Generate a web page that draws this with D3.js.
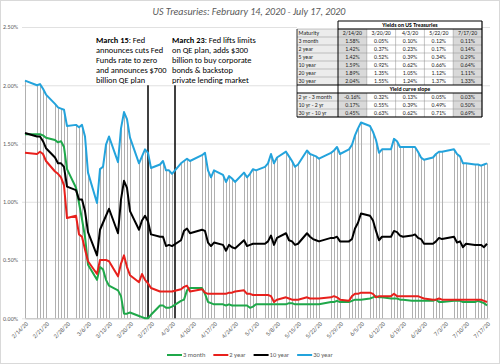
<!DOCTYPE html>
<html><head><meta charset="utf-8">
<script src="https://cdn.jsdelivr.net/npm/d3@7"></script>
<style>
body{margin:0;background:#fff}
svg{display:block}
text{font-family:Carlito,Calibri,Lato,"Liberation Sans",sans-serif}
</style></head>
<body><svg id="chart" width="500" height="364"></svg>
<script>
// ---------- DATA ----------
const dates = ["2/14","2/18","2/19","2/20","2/21","2/24","2/25","2/26","2/27","2/28",
"3/2","3/3","3/4","3/5","3/6","3/9","3/10","3/11","3/12","3/13","3/16","3/17","3/18","3/19","3/20","3/23","3/24","3/25","3/26","3/27","3/30","3/31",
"4/1","4/2","4/3","4/6","4/7","4/8","4/9","4/13","4/14","4/15","4/16","4/17","4/20","4/21","4/22","4/23","4/24","4/27","4/28","4/29","4/30",
"5/1","5/4","5/5","5/6","5/7","5/8","5/11","5/12","5/13","5/14","5/15","5/18","5/19","5/20","5/21","5/22","5/26","5/27","5/28","5/29",
"6/1","6/2","6/3","6/4","6/5","6/8","6/9","6/10","6/11","6/12","6/15","6/16","6/17","6/18","6/19","6/22","6/23","6/24","6/25","6/26","6/29","6/30",
"7/1","7/2","7/6","7/7","7/8","7/9","7/10","7/13","7/14","7/15","7/16","7/17"];

const month3 = [1.58,1.58,1.58,1.57,1.55,1.53,1.51,1.52,1.47,1.28,
1.12,0.99,0.85,0.70,0.46,0.33,0.44,0.42,0.33,0.28,0.24,0.19,0.04,0.04,0.05,0.02,0.01,0.00,0.00,0.03,0.11,0.11,
0.09,0.09,0.10,0.15,0.16,0.24,0.26,0.26,0.21,0.14,0.13,0.12,0.12,0.11,0.12,0.11,0.11,0.11,0.11,0.09,0.10,
0.12,0.12,0.12,0.12,0.12,0.12,0.12,0.13,0.13,0.12,0.12,0.12,0.12,0.12,0.12,0.12,0.14,0.14,0.15,0.14,
0.14,0.15,0.16,0.16,0.16,0.17,0.18,0.19,0.18,0.18,0.17,0.17,0.17,0.16,0.16,0.15,0.15,0.15,0.15,0.15,0.15,0.16,
0.14,0.14,0.15,0.15,0.15,0.14,0.14,0.14,0.15,0.14,0.13,0.11];

const year2 = [1.42,1.41,1.43,1.41,1.35,1.26,1.24,1.21,1.14,0.86,
0.88,0.72,0.70,0.59,0.49,0.38,0.50,0.50,0.50,0.49,0.36,0.47,0.54,0.44,0.37,0.31,0.38,0.33,0.30,0.26,0.23,0.23,
0.23,0.23,0.23,0.25,0.27,0.28,0.23,0.25,0.22,0.21,0.21,0.21,0.21,0.21,0.22,0.22,0.23,0.24,0.21,0.21,0.20,
0.20,0.20,0.20,0.19,0.14,0.16,0.18,0.17,0.16,0.16,0.16,0.18,0.17,0.17,0.17,0.17,0.18,0.19,0.18,0.16,
0.15,0.19,0.21,0.21,0.22,0.22,0.21,0.18,0.19,0.19,0.19,0.21,0.19,0.19,0.19,0.19,0.19,0.19,0.18,0.17,0.16,0.16,
0.17,0.16,0.16,0.16,0.16,0.16,0.16,0.16,0.16,0.16,0.15,0.14];

const year10 = [1.59,1.56,1.56,1.52,1.46,1.38,1.33,1.33,1.30,1.13,
1.10,1.02,1.02,0.92,0.74,0.54,0.76,0.82,0.88,0.94,0.73,1.02,1.18,1.12,0.92,0.76,0.84,0.88,0.83,0.72,0.70,0.70,
0.62,0.63,0.62,0.67,0.75,0.77,0.73,0.76,0.75,0.65,0.62,0.65,0.63,0.58,0.63,0.61,0.60,0.67,0.62,0.63,0.64,
0.64,0.64,0.66,0.71,0.63,0.69,0.73,0.67,0.66,0.63,0.64,0.73,0.70,0.68,0.67,0.66,0.69,0.69,0.70,0.66,
0.66,0.68,0.77,0.82,0.90,0.88,0.84,0.75,0.67,0.70,0.70,0.75,0.74,0.71,0.70,0.71,0.72,0.69,0.68,0.64,0.64,0.66,
0.69,0.68,0.70,0.65,0.66,0.61,0.64,0.63,0.63,0.63,0.61,0.64];

const year30 = [2.04,2.00,2.01,1.97,1.92,1.84,1.81,1.80,1.79,1.65,
1.66,1.64,1.66,1.56,1.25,0.99,1.28,1.30,1.49,1.56,1.34,1.63,1.77,1.71,1.55,1.33,1.39,1.45,1.42,1.29,1.32,1.35,
1.27,1.27,1.24,1.33,1.35,1.37,1.35,1.40,1.42,1.27,1.21,1.27,1.23,1.17,1.22,1.20,1.17,1.25,1.21,1.24,1.28,
1.27,1.30,1.33,1.41,1.33,1.38,1.43,1.39,1.35,1.30,1.32,1.44,1.41,1.40,1.39,1.37,1.42,1.44,1.47,1.41,
1.45,1.49,1.57,1.63,1.68,1.65,1.60,1.53,1.42,1.45,1.45,1.54,1.52,1.47,1.47,1.47,1.47,1.43,1.38,1.36,1.38,1.41,
1.43,1.43,1.45,1.41,1.39,1.33,1.33,1.32,1.32,1.31,1.32,1.33];

const seriesNames = ["3 month","2 year","10 year","30 year"];
const seriesColors = ["#1fa84a","#e8201c","#000000","#23a3dc"];
const yTicks = [0,0.5,1.0,1.5,2.0,2.5];
const xTickDates = ["2/14","2/21","2/28","3/6","3/13","3/20","3/27","4/3","4/10","4/17","4/24","5/1","5/8","5/15","5/22","5/29","6/5","6/12","6/19","6/26","7/3","7/10","7/17"];
const title = "US Treasuries: February 14, 2020 - July 17, 2020";

const eventDates = ["3/26","4/4"];
const eventTop = 2.0;
const note1 = [["March 15",": Fed"],["","announces cuts Fed"],["","Funds rate to zero"],["","and announces $700"],["","billion QE plan"]];
const note2 = [["March 23",": Fed lifts limits"],["","on QE plan, adds $300"],["","billion to buy corporate"],["","bonds & backstop"],["","private lending market"]];

const tableTitle1 = "Yields on US Treasuries";
const tableTitle2 = "Yield curve slope";
const tableCols = ["2/14/20","3/20/20","4/3/20","5/22/20","7/17/20"];
const maturities = ["3 month","2 year","5 year","10 year","20 year","30 year"];
const yieldRows = [[1.58,0.05,0.10,0.12,0.11],[1.42,0.37,0.23,0.17,0.14],[1.42,0.52,0.39,0.34,0.29],
                   [1.59,0.92,0.62,0.66,0.64],[1.89,1.35,1.05,1.12,1.11],[2.04,1.55,1.24,1.37,1.33]];
const slopeLabels = ["2 yr - 3 month","10 yr - 2 yr","30 yr - 10 yr"];
const slopeRows = [[-0.16,0.32,0.13,0.05,0.03],[0.17,0.55,0.39,0.49,0.50],[0.45,0.63,0.62,0.71,0.69]];

// ---------- CHART ----------
const parse = s => d3.timeParse("%m/%d/%Y")(s + "/2020");
const D = dates.map(parse);
const svg = d3.select("#chart");
svg.append("rect").attr("x",0.5).attr("y",0.5).attr("width",499).attr("height",363)
  .attr("fill","#fff").attr("stroke","#d9d9d9");

const x = d3.scaleTime().domain([parse("2/14"), parse("7/17")]).range([25, 487]);
const y = d3.scaleLinear().domain([0, 2.5]).range([318.3, 27]);
const gray = "#595959";

// title
svg.append("text").attr("x",249).attr("y",15).attr("text-anchor","middle")
  .attr("font-size",10).attr("font-style","italic").attr("fill",gray).text(title);

// y grid + labels
const yAxis = svg.append("g").attr("transform","translate(22,0)")
  .call(d3.axisLeft(y).tickValues(yTicks).tickSize(-468).tickPadding(4)
    .tickFormat(d => d.toFixed(2) + "%"));
yAxis.select(".domain").remove();
yAxis.selectAll(".tick line").attr("stroke","#d9d9d9").attr("stroke-width",0.8);
yAxis.selectAll(".tick text").attr("font-size",6).attr("fill",gray).attr("font-family","Carlito,Calibri,Lato,sans-serif");

// x labels
const xAxis = svg.append("g").attr("transform","translate(0,318.3)")
  .call(d3.axisBottom(x).tickValues(xTickDates.map(parse)).tickSize(0)
    .tickFormat(d3.timeFormat("%-m/%-d/%y")));
xAxis.select(".domain").attr("stroke","#bfbfbf");
xAxis.selectAll(".tick text").attr("font-size",6.2).attr("fill",gray)
  .attr("font-family","Carlito,Calibri,Lato,sans-serif")
  .attr("text-anchor","end").attr("dy",0).attr("y",0)
  .attr("transform","translate(3,6) rotate(-45)");

// drop lines
const maxVals = D.map((d,i) => Math.max(month3[i], year2[i], year10[i], year30[i]));
svg.append("g").selectAll("line").data(D).join("line")
  .attr("x1", d => Math.round(x(d)) + 0.5).attr("x2", d => Math.round(x(d)) + 0.5)
  .attr("y1", (d,i) => y(maxVals[i])).attr("y2", y(0))
  .attr("stroke","#b0b0b0").attr("stroke-width",1);

// event lines
svg.append("g").selectAll("line").data(eventDates.map(parse)).join("line")
  .attr("x1", d => x(d)).attr("x2", d => x(d))
  .attr("y1", y(eventTop)).attr("y2", y(0))
  .attr("stroke","#000").attr("stroke-width",1.5);

// series
const allSeries = [month3, year2, year10, year30];
const line = d3.line().x((d,i) => x(D[i])).y(d => y(d));
allSeries.forEach((s,k) => {
  svg.append("path").datum(s).attr("d", line).attr("fill","none")
    .attr("stroke", seriesColors[k]).attr("stroke-width",2).attr("stroke-linejoin","round");
});

// annotations
function note(lines, x0, y0) {
  const t = svg.append("text").attr("font-size",8.4).attr("fill","#000");
  lines.forEach((l,i) => {
    const ts = t.append("tspan").attr("x",x0).attr("y",y0 + i*9.9);
    if (l[0]) ts.append("tspan").attr("font-weight","bold").text(l[0]);
    ts.append("tspan").text(l[1]);
  });
}
note(note1, 96, 43);
note(note2, 172, 43);

// legend
const leg = svg.append("g");
let lx = 167;
seriesNames.forEach((n,k) => {
  leg.append("line").attr("x1",lx).attr("x2",lx+15).attr("y1",355).attr("y2",355)
    .attr("stroke",seriesColors[k]).attr("stroke-width",2);
  const t = leg.append("text").attr("x",lx+16).attr("y",357.3).attr("font-size",6.5)
    .attr("fill",gray).text(n);
  lx += 16 + t.node().getComputedTextLength() + 8;
});

// ---------- TABLE ----------
const tb = svg.append("g");
const X0 = 297, labW = 41, colW = 28.8, rowH = 8, Y0 = 21;
const colX = i => X0 + labW + i*colW;
const rowY = r => Y0 + r*rowH;
const X1 = colX(5);
tb.append("rect").attr("x",X0).attr("y",Y0).attr("width",X1-X0).attr("height",rowH*12).attr("fill","#fff");
const bodyRows = [];
bodyRows.push({r:1, label:"Maturity", vals: tableCols, head:true});
maturities.forEach((m,i) => bodyRows.push({r:2+i, label:m, vals: yieldRows[i].map(v => v.toFixed(2)+"%")}));
slopeLabels.forEach((m,i) => bodyRows.push({r:9+i, label:m, vals: slopeRows[i].map(v => (v<0?"-":"") + Math.abs(v).toFixed(2)+"%")}));
const fs = 5.8;
bodyRows.forEach(row => {
  tb.append("rect").attr("x",X0).attr("y",rowY(row.r)).attr("width",labW).attr("height",rowH).attr("fill","#ececec");
  [0,4].forEach(c => tb.append("rect").attr("x",colX(c)).attr("y",rowY(row.r)).attr("width",colW).attr("height",rowH).attr("fill","#d9d9d9"));
  tb.append("text").attr("x",X0+1.5).attr("y",rowY(row.r)+6).attr("font-size",fs).attr("fill","#222").text(row.label);
  row.vals.forEach((v,c) => tb.append("text").attr("x",colX(c)+colW/2).attr("y",rowY(row.r)+6)
    .attr("text-anchor","middle").attr("font-size",fs).attr("fill","#222").text(v));
});
// grid
for (let r = 1; r <= 12; r++) {
  if (r === 8 || r === 9) continue;
  tb.append("line").attr("x1",X0).attr("x2",X1).attr("y1",rowY(r)).attr("y2",rowY(r)).attr("stroke","#8c8c8c").attr("stroke-width",0.5);
}
for (let c = 1; c < 5; c++) {
  [[1,8],[9,12]].forEach(([a,b]) => tb.append("line").attr("x1",colX(c)).attr("x2",colX(c))
    .attr("y1",rowY(a)).attr("y2",rowY(b)).attr("stroke","#8c8c8c").attr("stroke-width",0.5));
}
// strong borders
const strong = (x1,y1,x2,y2,w) => tb.append("line").attr("x1",x1).attr("y1",y1).attr("x2",x2).attr("y2",y2)
  .attr("stroke","#000").attr("stroke-width",w);
strong(colX(0),rowY(0),X1,rowY(0),1.2);
strong(colX(0),rowY(1),X1,rowY(1),1);
strong(X0,rowY(8),X1,rowY(8),1.2);
strong(X0,rowY(9),X1,rowY(9),1.2);
strong(X0,rowY(12),X1,rowY(12),1);
strong(X1,rowY(0),X1,rowY(12),1.2);
strong(colX(0),rowY(0),colX(0),rowY(12),1);
strong(X0,rowY(1),X0,rowY(12),0.8);
tb.append("text").attr("x",(colX(0)+X1)/2).attr("y",rowY(0)+6).attr("text-anchor","middle")
  .attr("font-size",fs).attr("font-weight","bold").attr("fill","#000").text(tableTitle1);
tb.append("text").attr("x",(colX(0)+X1)/2).attr("y",rowY(8)+6).attr("text-anchor","middle")
  .attr("font-size",fs).attr("font-weight","bold").attr("fill","#000").text(tableTitle2);
</script></body></html>
